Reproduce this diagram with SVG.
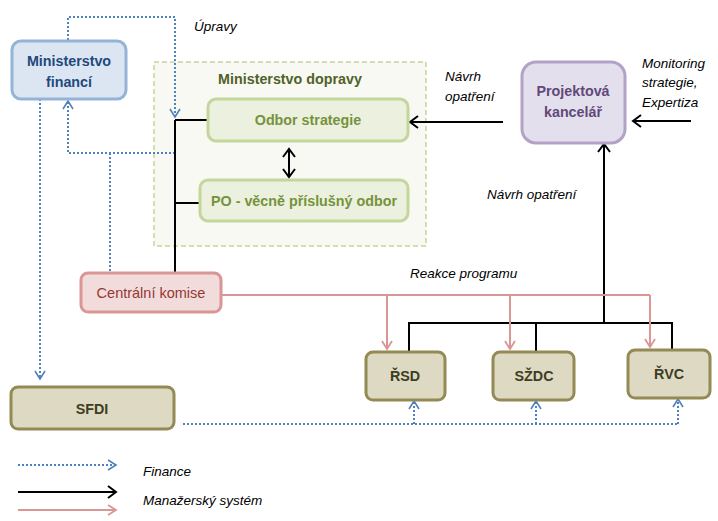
<svg xmlns="http://www.w3.org/2000/svg" width="718" height="521" viewBox="0 0 718 521">
<style>
text{font-family:"Liberation Sans",Arial,sans-serif;}
.b{font-weight:bold;font-size:14.3px;text-anchor:middle;}
.i{font-style:italic;font-size:13.5px;fill:#000;}
.fin{fill:none;stroke:#4f81bd;stroke-width:2;stroke-dasharray:2 2;}
.man{fill:none;stroke:#000;stroke-width:2;}
.pink{fill:none;stroke:#d99694;stroke-width:2;}
</style>
<defs>
<marker id="ab" markerWidth="12" markerHeight="12" refX="10" refY="6" orient="auto" markerUnits="userSpaceOnUse"><path d="M2,1 L10,6 L2,11" fill="none" stroke="#4f81bd" stroke-width="1.6"/></marker>
<marker id="ak" markerWidth="14" markerHeight="14" refX="11" refY="7" orient="auto" markerUnits="userSpaceOnUse"><path d="M3,1 L11,7 L3,13" fill="none" stroke="#000" stroke-width="2"/></marker>
<marker id="aks" markerWidth="14" markerHeight="14" refX="11" refY="7" orient="auto-start-reverse" markerUnits="userSpaceOnUse"><path d="M3,1 L11,7 L3,13" fill="none" stroke="#000" stroke-width="2"/></marker>
<marker id="ap" markerWidth="12" markerHeight="12" refX="10" refY="6" orient="auto" markerUnits="userSpaceOnUse"><path d="M2,1 L10,6 L2,11" fill="none" stroke="#d99694" stroke-width="1.8"/></marker>
</defs>

<g id="md">
<rect x="154" y="62" width="272" height="184" fill="#f8f9f3" stroke="#c3d69b" stroke-width="1.5" stroke-dasharray="5 3"/>
<text x="290" y="84" class="b" fill="#4f6228">Ministerstvo dopravy</text>
</g>

<g id="connectors">
<path class="fin" d="M68,40 V17 H175 V117" marker-end="url(#ab)"/>
<path class="fin" d="M175,153 H68 V101" marker-end="url(#ab)"/>
<path class="fin" d="M110,153 V272"/>
<path class="fin" d="M40,99 V379" marker-end="url(#ab)"/>
<path class="fin" d="M183,424 H678"/>
<path class="fin" d="M414,424 V401" marker-end="url(#ab)"/>
<path class="fin" d="M536,424 V401" marker-end="url(#ab)"/>
<path class="fin" d="M678,424 V399" marker-end="url(#ab)"/>
<path class="man" d="M175,120 V272 M175,120 H208 M175,203 H200"/>
<path class="man" d="M289,149 V177" marker-start="url(#aks)" marker-end="url(#aks)"/>
<path class="man" d="M503,122 H410" marker-end="url(#ak)"/>
<path class="man" d="M691,121 H633" marker-end="url(#ak)"/>
<path class="man" d="M604,322 V144" marker-end="url(#ak)"/>
<path class="man" d="M409,352 V323 H672 V350 M536,323 V352"/>
<path class="pink" d="M221,295 H650"/>
<path class="pink" d="M387,295 V349" marker-end="url(#ap)"/>
<path class="pink" d="M510,295 V349" marker-end="url(#ap)"/>
<path class="pink" d="M650,295 V347" marker-end="url(#ap)"/>
</g>

<g id="mf">
<rect x="12" y="41" width="114" height="58" rx="9" fill="#dce6f2" stroke="#95b3d7" stroke-width="3"/>
<text x="69" y="66" class="b" fill="#1f497d">Ministerstvo</text>
<text x="69" y="87" class="b" fill="#1f497d">financí</text>
</g>

<g id="os">
<rect x="208" y="99" width="200" height="42" rx="8" fill="#ebf1de" stroke="#c3d69b" stroke-width="3"/>
<text x="308" y="125" class="b" fill="#76923c">Odbor strategie</text>
</g>

<g id="po">
<rect x="200" y="180" width="208" height="41" rx="8" fill="#ebf1de" stroke="#c3d69b" stroke-width="3"/>
<text x="304" y="206" class="b" fill="#76923c">PO - věcně příslušný odbor</text>
</g>

<g id="pk">
<rect x="522" y="62" width="103" height="81" rx="14" fill="#e4dfec" stroke="#b3a2c7" stroke-width="3"/>
<text x="573" y="96" class="b" fill="#5f497a">Projektová</text>
<text x="573" y="117" class="b" fill="#5f497a">kancelář</text>
</g>

<g id="ck">
<rect x="81" y="273" width="140" height="39" rx="7" fill="#f2dcdb" stroke="#d99694" stroke-width="3"/>
<text x="151" y="298" class="b" fill="#953735" style="font-weight:normal;font-size:14.5px">Centrální komise</text>
</g>

<g id="rsd">
<rect x="366" y="352" width="79" height="48" rx="7" fill="#ddd9c3" stroke="#948a54" stroke-width="3"/>
<text x="405" y="381" class="b" fill="#3d3d22">ŘSD</text>
</g>
<g id="szdc">
<rect x="493" y="352" width="81" height="48" rx="7" fill="#ddd9c3" stroke="#948a54" stroke-width="3"/>
<text x="534" y="381" class="b" fill="#3d3d22">SŽDC</text>
</g>
<g id="rvc">
<rect x="628" y="350" width="82" height="48" rx="7" fill="#ddd9c3" stroke="#948a54" stroke-width="3"/>
<text x="669" y="379" class="b" fill="#3d3d22">ŘVC</text>
</g>
<g id="sfdi">
<rect x="11" y="387" width="163" height="42" rx="7" fill="#ddd9c3" stroke="#948a54" stroke-width="3"/>
<text x="92" y="414" class="b" fill="#3d3d22">SFDI</text>
</g>

<g id="labels">
<text x="194" y="31" class="i">Úpravy</text>
<text x="445" y="81" class="i">Návrh</text>
<text x="445" y="101" class="i">opatření</text>
<text x="642" y="68" class="i">Monitoring</text>
<text x="642" y="87" class="i">strategie,</text>
<text x="642" y="107" class="i">Expertiza</text>
<text x="487" y="199" class="i">Návrh opatření</text>
<text x="410" y="278" class="i">Reakce programu</text>
</g>

<g id="legend">
<path class="fin" d="M18,465 H116" marker-end="url(#ab)"/>
<path class="man" d="M18,492 H116" marker-end="url(#ak)"/>
<path class="pink" d="M18,510 H116" marker-end="url(#ap)"/>
<text x="143" y="476" class="i">Finance</text>
<text x="143" y="505" class="i">Manažerský systém</text>
</g>
</svg>
